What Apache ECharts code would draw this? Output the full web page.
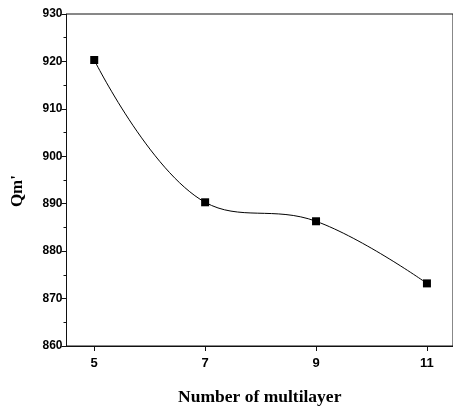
<!DOCTYPE html>
<html>
<head>
<meta charset="utf-8">
<script src="https://cdn.jsdelivr.net/npm/echarts@6/dist/echarts.min.js"></script>
<style>
  html, body { margin: 0; padding: 0; background: #fff; }
  #chart { width: 453px; height: 411px; }
</style>
</head>
<body>
<div id="chart"></div>
<script>
// values
const layers = [5, 7, 9, 11]
const qm = [920.3, 890.3, 886.3, 873.2]
const xTicks = [5, 7, 9, 11]

const chart = echarts.init(document.getElementById('chart'), null, { renderer: 'canvas' })

const labelFont = { color: '#000', fontFamily: 'Liberation Sans', fontWeight: 'bold', fontSize: 12 }

chart.setOption({
  animation: false,
  backgroundColor: '#fff',
  grid: {
    left: 66.5, right: -2, top: 14, bottom: 63,
    show: true, borderColor: '#111', borderWidth: 1
  },
  xAxis: {
    type: 'value',
    min: 4.5, max: 11.47,
    name: 'Number of multilayer',
    nameLocation: 'middle',
    nameGap: 42,
    nameTextStyle: { color: '#000', fontFamily: 'Liberation Serif', fontWeight: 'bold', fontSize: 17.5 },
    axisLine: { lineStyle: { color: '#111', width: 1 } },
    axisTick: { show: true, inside: false, length: 5, customValues: xTicks, lineStyle: { color: '#111' } },
    axisLabel: Object.assign({}, labelFont, { margin: 11, fontSize: 13, customValues: xTicks }),
    splitLine: { show: false }
  },
  yAxis: {
    type: 'value',
    min: 860, max: 930, interval: 10,
    axisLine: { show: true, lineStyle: { color: '#111', width: 1 } },
    axisTick: { show: true, inside: false, length: 5, lineStyle: { color: '#111' } },
    minorTick: { show: true, splitNumber: 2, length: 3, lineStyle: { color: '#111' } },
    axisLabel: Object.assign({ margin: 4 }, labelFont),
    splitLine: { show: false }
  },
  graphic: [{
    type: 'text',
    left: 9, top: 175,
    rotation: Math.PI / 2,
    style: { text: "Qm'", fill: '#000', font: 'bold 17px "Liberation Serif"' }
  }],
  series: [{
    type: 'line',
    data: layers.map((x, i) => [x, qm[i]]),
    smooth: 0.4,
    symbol: 'rect',
    symbolSize: 8,
    itemStyle: { color: '#000' },
    lineStyle: { color: '#000', width: 1 }
  }]
})
</script>
</body>
</html>
